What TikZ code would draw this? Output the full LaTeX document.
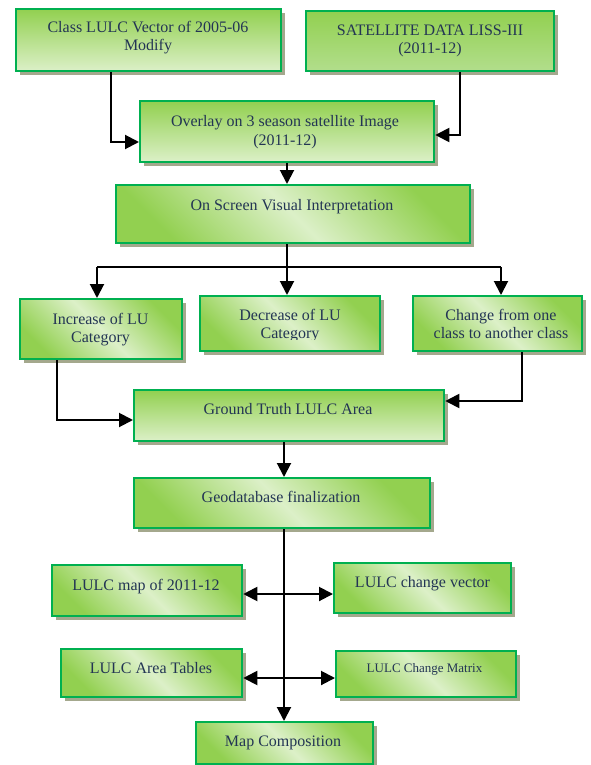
\documentclass[tikz,border=0pt]{standalone}
\usepackage{fontspec}
\setmainfont{Liberation Serif}
\usetikzlibrary{arrows.meta,shadows,calc}
\definecolor{boxgreen}{HTML}{00B050}
\definecolor{gdark}{HTML}{92D050}
\definecolor{gmid}{HTML}{B2DE8C}
\definecolor{gpale}{HTML}{DCF0C8}
\definecolor{shadowc}{HTML}{A4A88D}
\definecolor{navy}{HTML}{233554}
\tikzset{
  box/.style={draw=boxgreen, line width=2.3pt, anchor=north west, inner sep=0pt,
    drop shadow={shadow xshift=4pt, shadow yshift=-4pt, fill=shadowc, opacity=1}},
  vgrad/.style={box, top color=gdark, bottom color=gpale},
  vgradb/.style={box, top color=gdark, bottom color=gmid},
  dgrad/.style={box, left color=gdark, right color=gdark, middle color=gpale, shading angle=135},
  txt/.style={font=\fontsize{16}{18}\selectfont, text=navy, align=center, inner sep=0pt, anchor=base},
  stxt/.style={txt, font=\fontsize{13}{15}\selectfont},
  ln/.style={line width=2pt, draw=black},
  arr/.style={ln, -{Triangle[length=14pt,width=14pt]}},
  darr/.style={ln, {Triangle[length=14pt,width=14pt]}-{Triangle[length=14pt,width=14pt]}}
}
\begin{document}
\begin{tikzpicture}[x=1pt,y=-1pt]
\useasboundingbox[fill=white] (0,0) rectangle (591,765);
% boxes
\node[vgrad,  minimum width=265, minimum height=62] (b1) at (15,8) {};
\node[vgradb, minimum width=248, minimum height=60] (b2) at (305,10) {};
\node[vgrad,  minimum width=294, minimum height=61] (b3) at (139,100) {};
\node[dgrad,  minimum width=354, minimum height=58] (b4) at (115,184) {};
\node[dgrad,  minimum width=162, minimum height=60] (b5) at (19,298) {};
\node[dgrad,  minimum width=180, minimum height=55] (b6) at (199,295) {};
\node[dgrad,  minimum width=169, minimum height=55] (b7) at (412,295) {};
\node[vgrad,  minimum width=310, minimum height=51] (b8) at (133,389) {};
\node[dgrad,  minimum width=296, minimum height=50] (b9) at (133,477) {};
\node[dgrad,  minimum width=190, minimum height=51] (b10) at (51,564) {};
\node[dgrad,  minimum width=177, minimum height=50] (b11) at (333,562) {};
\node[dgrad,  minimum width=181, minimum height=48] (b12) at (60,648) {};
\node[dgrad,  minimum width=180, minimum height=46] (b13) at (335,650) {};
\node[dgrad,  minimum width=177, minimum height=42] (b14) at (195,721) {};
% texts
\node[txt] (t1) at (148,51) {Class LULC Vector of 2005-06\\Modify};
\node[txt] (t2) at (430,53.5) {SATELLITE DATA LISS-III\\(2011-12)};
\node[txt] (t3) at (285,145) {Overlay on 3 season satellite Image\\(2011-12)};
\node[txt] (t4) at (292,210) {On Screen Visual Interpretation};
\node[txt] (t5) at (100.5,342) {Increase of LU\\Category};
\begin{scope}
\clip (199,295) rectangle (379,339);
\node[txt] (t6) at (290,338) {Decrease of LU\\Category};
\end{scope}
\node[txt] (t7) at (501,338) {Change from one\\class to another class};
\node[txt] (t8) at (288,414) {Ground Truth LULC Area};
\node[txt] (t9) at (281,502.5) {Geodatabase finalization};
\node[txt] (t10) at (146,590) {LULC map of 2011-12};
\node[txt] (t11) at (422.5,587.5) {LULC change vector};
\node[txt] (t12) at (151,673) {LULC Area Tables};
\node[stxt] (t13) at (424.5,672) {LULC Change Matrix};
\node[txt] (t14) at (283,746.5) {Map Composition};
% junctions
\coordinate (j0) at (287,267);
\coordinate (jl) at (97,267);
\coordinate (jr) at (501,267);
% connectors
\draw[arr] (111,0 |- b1.south) |- (b3.west |- 0,142);
\draw[arr] (460,0 |- b2.south) |- (b3.east |- 0,135);
\draw[arr] (287,0 |- b3.south) -- (287,0 |- b4.north);
\draw[ln] (287,0 |- b4.south) -- (j0);
\draw[ln] (jl) -- (jr);
\draw[arr] (jl) -- (jl |- b5.north);
\draw[arr] (j0) -- (j0 |- b6.north);
\draw[arr] (jr) -- (jr |- b7.north);
\draw[arr] (57,0 |- b5.south) |- (b8.west |- 0,420);
\draw[arr] (522,0 |- b7.south) |- (b8.east |- 0,401);
\draw[arr] (284,0 |- b8.south) -- (284,0 |- b9.north);
\draw[arr] (284,0 |- b9.south) -- (284,0 |- b14.north);
\draw[darr] (b10.east |- 0,594) -- (b11.west |- 0,594);
\draw[darr] (b12.east |- 0,678) -- (b13.west |- 0,678);
\end{tikzpicture}
\end{document}
